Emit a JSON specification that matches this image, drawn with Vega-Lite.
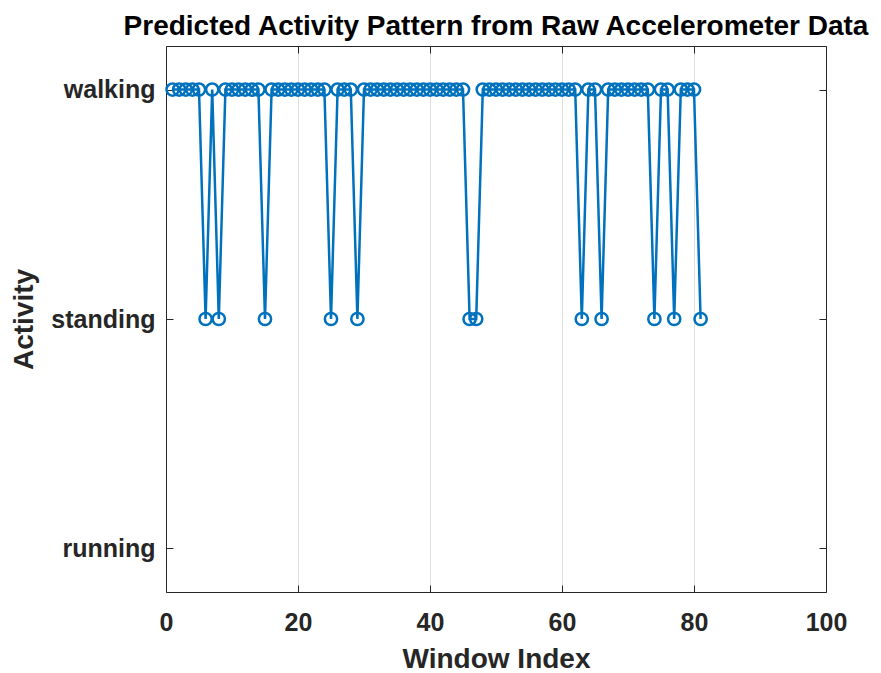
{
  "$schema": "https://vega.github.io/schema/vega-lite/v6.json",
  "width": 660,
  "height": 546,
  "autosize": {"type": "none"},
  "padding": {"left": 166, "top": 46, "right": 55, "bottom": 81},
  "background": "white",
  "config": {
    "font": "Liberation Sans",
    "view": {"stroke": "#262626", "strokeWidth": 1},
    "axis": {
      "domain": false,
      "gridColor": "#262626",
      "gridOpacity": 0.15,
      "tickColor": "#262626",
      "tickSize": -7,
      "labelColor": "#262626",
      "labelFont": "Liberation Sans",
      "labelFontWeight": "bold",
      "labelFontSize": 25,
      "titleFont": "Liberation Sans",
      "titleFontWeight": "bold",
      "titleFontSize": 28,
      "titleColor": "#262626"
    }
  },
  "title": {
    "text": "Predicted Activity Pattern from Raw Accelerometer Data",
    "font": "Liberation Sans",
    "fontSize": 28,
    "fontWeight": "bold",
    "color": "#000000",
    "anchor": "middle",
    "frame": "group",
    "offset": 5
  },
  "data": {
    "values": [
      {"idx": 1, "activity": "walking"}, {"idx": 2, "activity": "walking"}, {"idx": 3, "activity": "walking"},
      {"idx": 4, "activity": "walking"}, {"idx": 5, "activity": "walking"}, {"idx": 6, "activity": "standing"},
      {"idx": 7, "activity": "walking"}, {"idx": 8, "activity": "standing"}, {"idx": 9, "activity": "walking"},
      {"idx": 10, "activity": "walking"}, {"idx": 11, "activity": "walking"}, {"idx": 12, "activity": "walking"},
      {"idx": 13, "activity": "walking"}, {"idx": 14, "activity": "walking"}, {"idx": 15, "activity": "standing"},
      {"idx": 16, "activity": "walking"}, {"idx": 17, "activity": "walking"}, {"idx": 18, "activity": "walking"},
      {"idx": 19, "activity": "walking"}, {"idx": 20, "activity": "walking"}, {"idx": 21, "activity": "walking"},
      {"idx": 22, "activity": "walking"}, {"idx": 23, "activity": "walking"}, {"idx": 24, "activity": "walking"},
      {"idx": 25, "activity": "standing"}, {"idx": 26, "activity": "walking"}, {"idx": 27, "activity": "walking"},
      {"idx": 28, "activity": "walking"}, {"idx": 29, "activity": "standing"}, {"idx": 30, "activity": "walking"},
      {"idx": 31, "activity": "walking"}, {"idx": 32, "activity": "walking"}, {"idx": 33, "activity": "walking"},
      {"idx": 34, "activity": "walking"}, {"idx": 35, "activity": "walking"}, {"idx": 36, "activity": "walking"},
      {"idx": 37, "activity": "walking"}, {"idx": 38, "activity": "walking"}, {"idx": 39, "activity": "walking"},
      {"idx": 40, "activity": "walking"}, {"idx": 41, "activity": "walking"}, {"idx": 42, "activity": "walking"},
      {"idx": 43, "activity": "walking"}, {"idx": 44, "activity": "walking"}, {"idx": 45, "activity": "walking"},
      {"idx": 46, "activity": "standing"}, {"idx": 47, "activity": "standing"}, {"idx": 48, "activity": "walking"},
      {"idx": 49, "activity": "walking"}, {"idx": 50, "activity": "walking"}, {"idx": 51, "activity": "walking"},
      {"idx": 52, "activity": "walking"}, {"idx": 53, "activity": "walking"}, {"idx": 54, "activity": "walking"},
      {"idx": 55, "activity": "walking"}, {"idx": 56, "activity": "walking"}, {"idx": 57, "activity": "walking"},
      {"idx": 58, "activity": "walking"}, {"idx": 59, "activity": "walking"}, {"idx": 60, "activity": "walking"},
      {"idx": 61, "activity": "walking"}, {"idx": 62, "activity": "walking"}, {"idx": 63, "activity": "standing"},
      {"idx": 64, "activity": "walking"}, {"idx": 65, "activity": "walking"}, {"idx": 66, "activity": "standing"},
      {"idx": 67, "activity": "walking"}, {"idx": 68, "activity": "walking"}, {"idx": 69, "activity": "walking"},
      {"idx": 70, "activity": "walking"}, {"idx": 71, "activity": "walking"}, {"idx": 72, "activity": "walking"},
      {"idx": 73, "activity": "walking"}, {"idx": 74, "activity": "standing"}, {"idx": 75, "activity": "walking"},
      {"idx": 76, "activity": "walking"}, {"idx": 77, "activity": "standing"}, {"idx": 78, "activity": "walking"},
      {"idx": 79, "activity": "walking"}, {"idx": 80, "activity": "walking"}, {"idx": 81, "activity": "standing"}
    ]
  },
  "layer": [
    {
      "mark": {"type": "line", "color": "#0072BD", "strokeWidth": 2.5},
      "encoding": {
        "x": {"field": "idx", "type": "quantitative",
              "scale": {"domain": [0, 100], "nice": false},
              "axis": {"orient": "bottom", "values": [0, 20, 40, 60, 80, 100], "title": "Window Index", "labelPadding": 25, "titlePadding": 10, "labelFlush": false}},
        "y": {"field": "activity", "type": "nominal",
              "scale": {"type": "point", "domain": ["walking", "standing", "running"], "padding": 0.19},
              "axis": {"orient": "left", "title": "Activity", "labelPadding": 18, "titlePadding": 12}},
        "order": {"field": "idx", "type": "quantitative"}
      }
    },
    {
      "mark": {"type": "point", "shape": "circle", "filled": false, "color": "#0072BD", "strokeWidth": 2.5, "size": 150, "opacity": 1},
      "encoding": {
        "x": {"field": "idx", "type": "quantitative", "axis": null},
        "y": {"field": "activity", "type": "nominal", "axis": null}
      }
    },
    {
      "mark": {"type": "line", "opacity": 0},
      "encoding": {
        "x": {"field": "idx", "type": "quantitative",
              "axis": {"orient": "top", "values": [0, 20, 40, 60, 80, 100], "labels": false, "grid": false, "title": null}},
        "y": {"field": "activity", "type": "nominal",
              "axis": {"orient": "right", "labels": false, "grid": false, "title": null}},
        "order": {"field": "idx", "type": "quantitative"}
      }
    }
  ],
  "resolve": {"axis": {"x": "independent", "y": "independent"}}
}
